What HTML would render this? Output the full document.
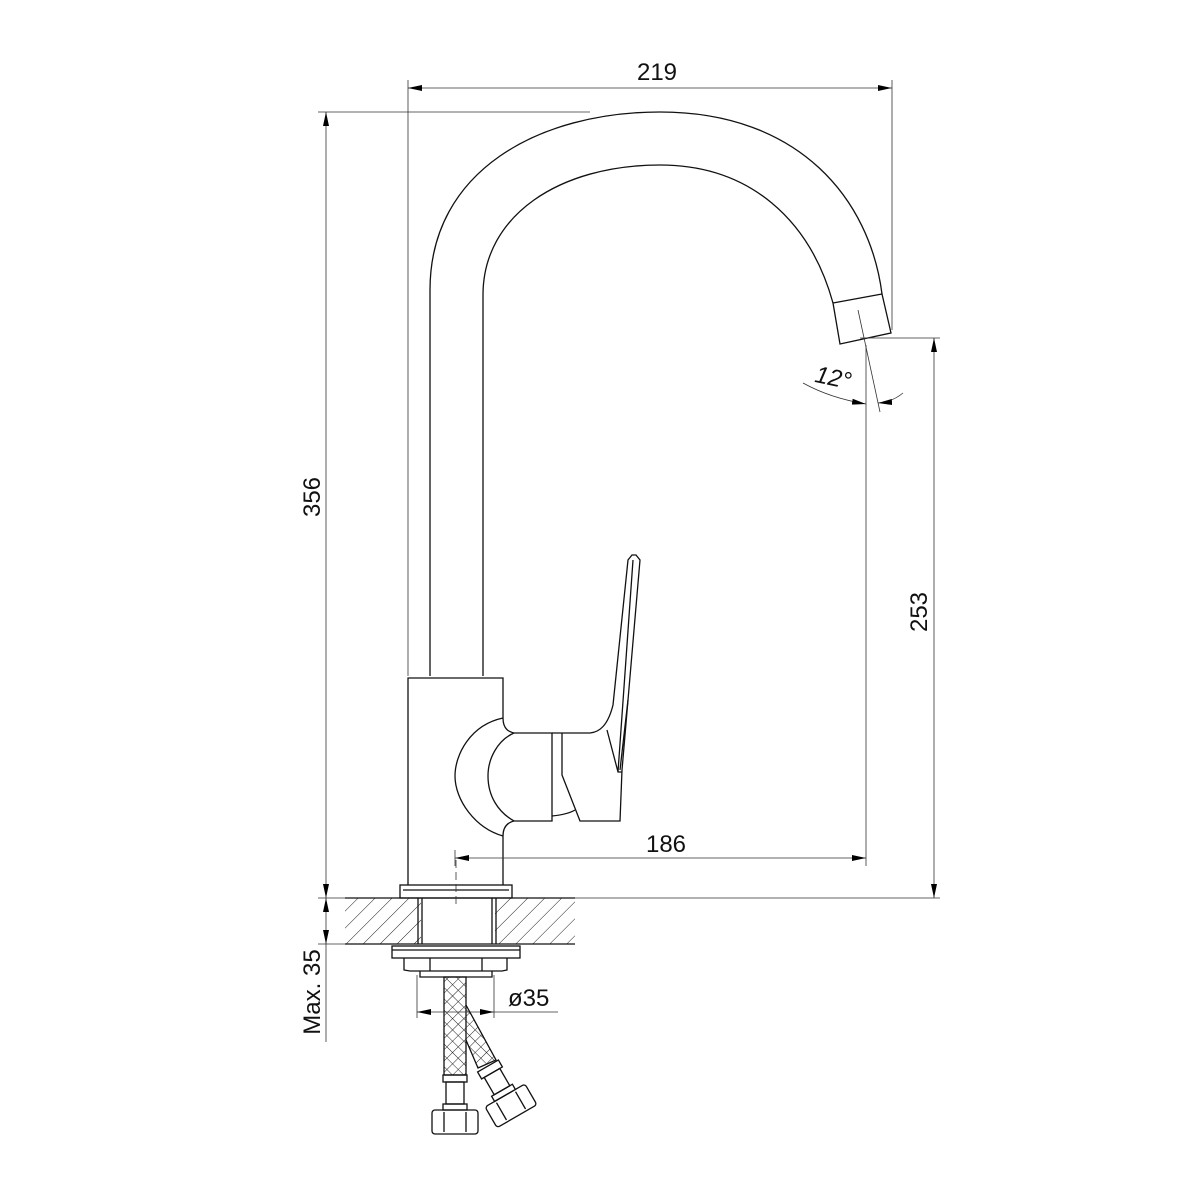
<!DOCTYPE html>
<html><head><style>body{margin:0;background:#fff}svg{display:block}</style></head><body>
<svg width="1200" height="1200" viewBox="0 0 1200 1200" xmlns="http://www.w3.org/2000/svg" font-family="Liberation Sans, sans-serif">
<defs>
<pattern id="h" width="12" height="12" patternUnits="userSpaceOnUse" patternTransform="rotate(45)"><line x1="0" y1="0" x2="0" y2="12" stroke="#222" stroke-width="1"/></pattern>
<pattern id="m" width="8" height="8" patternUnits="userSpaceOnUse" patternTransform="rotate(45)"><path d="M0 0H8M0 0V8" stroke="#222" stroke-width="1" fill="none"/></pattern>
<marker id="a" markerWidth="14" markerHeight="6" refX="14" refY="3" orient="auto" markerUnits="userSpaceOnUse"><path d="M0,0 L14,3 L0,6z" fill="#000"/></marker>
<marker id="b" markerWidth="14" markerHeight="6" refX="0" refY="3" orient="auto" markerUnits="userSpaceOnUse"><path d="M14,0 L0,3 L14,6z" fill="#000"/></marker>
</defs>
<g fill="none" stroke="#111" stroke-width="1.3">
<path d="M430,676 L430,290 C430,170 540,112 660,112 C800,112 870,200 882,294"/>
<path d="M483,676 L483,295 C483,215 560,165 660,165 C750,165 810,220 833,303"/>
<path d="M833,303 L882,294 L891,333 L840,344 Z"/>
<path d="M408,885 L408,678 L503,678 L503,718 C503,730 510,732 514,733 M503,885 L503,836 C503,825 510,822 514,821"/>
<path d="M503,718 C470,725 455,755 455,776 C455,800 475,828 503,836"/>
<path d="M514,733 C498,740 488,758 488,776 C488,796 498,812 514,821"/>
<path d="M514,733 L552,733 L552,821 L514,821"/>
<path d="M552,733 L562,733 M552,816 C562,815 570,813 575,810"/>
<path d="M562,733 L562,775 L580,821 L620,821 L622,770 L628,700 L640,560 L636,555 L632,555 L628,560 L613,705 C608,725 600,732 590,733 L562,733"/>
<path d="M607,730 L618,772 L622,772 M628,700 L620,770 M633,560 L618,772"/>
<rect x="400" y="885" width="112" height="13"/>
<line x1="403" y1="890" x2="509" y2="890"/>
<rect x="345" y="898" width="76" height="46" fill="url(#h)" stroke="none"/>
<rect x="495" y="898" width="80" height="46" fill="url(#h)" stroke="none"/>
<line x1="345" y1="898" x2="575" y2="898"/><line x1="345" y1="944" x2="575" y2="944"/>
<line x1="418" y1="898" x2="418" y2="944"/><line x1="422" y1="898" x2="422" y2="944"/>
<line x1="492" y1="898" x2="492" y2="944"/><line x1="496" y1="898" x2="496" y2="944"/>
<rect x="392" y="946" width="128" height="12"/><line x1="392" y1="950" x2="520" y2="950"/>
<path d="M404,958 L404,970 L410,971 L502,971 L507,970 L507,958"/>
<path d="M420,971 L420,977 L492,977 L492,971 M430,958 L430,971 M482,958 L482,971"/>
<rect x="444" y="977" width="22" height="98" fill="url(#m)"/>
<path d="M466,1005 L496,1060 L478,1068 L466,1040" fill="url(#m)"/>
<rect x="443" y="1075" width="24" height="7"/><rect x="446" y="1082" width="18" height="22"/>
<rect x="443" y="1104" width="24" height="6"/><rect x="432" y="1110" width="46" height="24" rx="3"/>
<line x1="444" y1="1112" x2="444" y2="1132"/><line x1="466" y1="1112" x2="466" y2="1132"/>
<g transform="translate(488,1066) rotate(-30)">
<rect x="-12" y="0" width="24" height="8"/><rect x="-9" y="8" width="18" height="20"/><rect x="-12" y="28" width="24" height="6"/><rect x="-23" y="34" width="46" height="24" rx="3"/>
<line x1="-11" y1="36" x2="-11" y2="56"/><line x1="11" y1="36" x2="11" y2="56"/></g>
</g>
<g stroke="#333" stroke-width="0.8" fill="none">
<line x1="408" y1="80" x2="408" y2="676"/><line x1="892" y1="80" x2="892" y2="330"/>
<line x1="408" y1="88" x2="892" y2="88" marker-start="url(#b)" marker-end="url(#a)"/>
<line x1="318" y1="112" x2="590" y2="112"/>
<line x1="326" y1="112" x2="326" y2="898" marker-start="url(#b)" marker-end="url(#a)"/>
<line x1="318" y1="898" x2="345" y2="898"/><line x1="575" y1="898" x2="940" y2="898"/>
<line x1="860" y1="338" x2="940" y2="338"/>
<line x1="934" y1="338" x2="934" y2="898" marker-start="url(#b)" marker-end="url(#a)"/>
<line x1="866" y1="345" x2="866" y2="866"/><line x1="858" y1="310" x2="880" y2="412"/>
<line x1="455" y1="858" x2="866" y2="858" marker-start="url(#b)" marker-end="url(#a)"/>
<line x1="455" y1="850" x2="455" y2="866"/>
<path d="M803,383 Q830,398 866,404" marker-end="url(#a)"/>
<path d="M903,393 Q892,402 878,403" marker-end="url(#a)"/>
<line x1="326" y1="898" x2="326" y2="944" marker-start="url(#b)" marker-end="url(#a)"/>
<line x1="326" y1="944" x2="326" y2="1042"/><line x1="318" y1="944" x2="345" y2="944"/>
<line x1="456" y1="860" x2="456" y2="905" stroke-dasharray="8,4"/>
<line x1="417" y1="975" x2="417" y2="1018"/><line x1="494" y1="975" x2="494" y2="1018"/>
<line x1="417" y1="1012" x2="494" y2="1012" marker-start="url(#b)" marker-end="url(#a)"/>
<line x1="494" y1="1012" x2="558" y2="1012"/>
</g>
<g font-size="24" fill="#111">
<text x="657" y="80" text-anchor="middle">219</text>
<text x="666" y="852" text-anchor="middle">186</text>
<text x="508" y="1006">ø35</text>
<text transform="translate(320,497) rotate(-90)" text-anchor="middle">356</text>
<text transform="translate(927,612) rotate(-90)" text-anchor="middle">253</text>
<text transform="translate(320,992) rotate(-90)" text-anchor="middle">Max. 35</text>
<text x="815" y="385" font-style="italic" transform="rotate(12,830,378)">12°</text>
</g>
</svg>
</body></html>
